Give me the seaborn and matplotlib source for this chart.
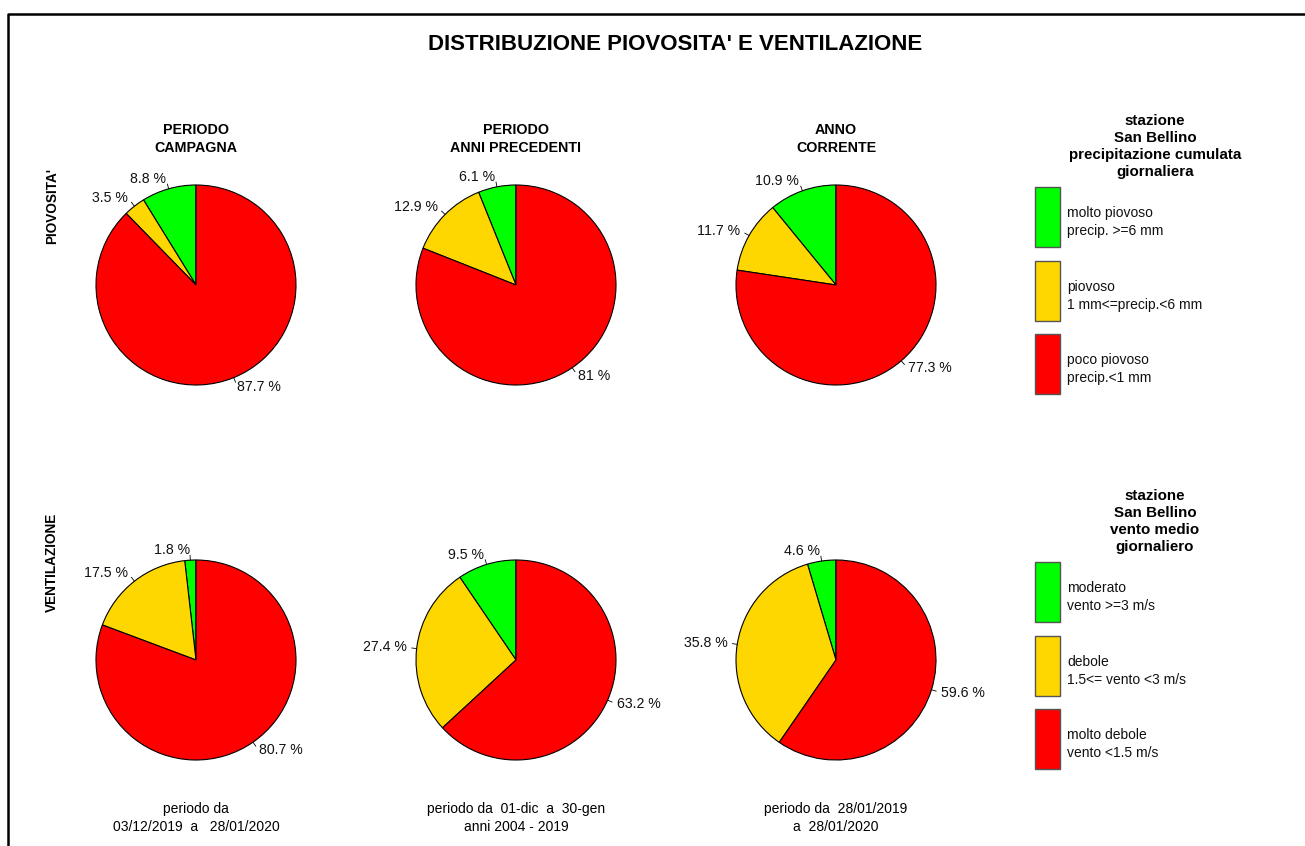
import matplotlib.pyplot as plt
import numpy as np
import seaborn as sns
from matplotlib.patches import Rectangle
from matplotlib.transforms import Bbox, TransformedBbox

# --- data ---
colors = ["#00FF00", "#FFD700", "#FF0000"]

rain_values = [
    [8.8, 3.5, 87.7],
    [6.1, 12.9, 81.0],
    [10.9, 11.7, 77.3],
]
rain_labels = [
    ["8.8 %", "3.5 %", "87.7 %"],
    ["6.1 %", "12.9 %", "81 %"],
    ["10.9 %", "11.7 %", "77.3 %"],
]
wind_values = [
    [1.8, 17.5, 80.7],
    [9.5, 27.4, 63.2],
    [4.6, 35.8, 59.6],
]
wind_labels = [
    ["1.8 %", "17.5 %", "80.7 %"],
    ["9.5 %", "27.4 %", "63.2 %"],
    ["4.6 %", "35.8 %", "59.6 %"],
]

col_titles = ["PERIODO\nCAMPAGNA", "PERIODO\nANNI PRECEDENTI", "ANNO\nCORRENTE"]
row_titles = ["PIOVOSITA'", "VENTILAZIONE"]
period_notes = [
    "periodo da\n03/12/2019  a   28/01/2020",
    "periodo da  01-dic  a  30-gen\nanni 2004 - 2019",
    "periodo da  28/01/2019\na  28/01/2020",
]

rain_legend_title = "stazione\nSan Bellino\nprecipitazione cumulata\ngiornaliera"
rain_legend = ["molto piovoso\nprecip. >=6 mm", "piovoso\n1 mm<=precip.<6 mm",
               "poco piovoso\nprecip.<1 mm"]
wind_legend_title = "stazione\nSan Bellino\nvento medio\ngiornaliero"
wind_legend = ["moderato\nvento >=3 m/s", "debole\n1.5<= vento <3 m/s",
               "molto debole\nvento <1.5 m/s"]

# --- layout (pixels) ---
W, H = 1305, 846
col_x = [196, 516, 836]
row_y = [285, 660]
cell_right = [352, 670, 985]
R = 100

sns.set_theme(style="white")
plt.rcParams["font.family"] = ["Liberation Sans", "DejaVu Sans"]

fig = plt.figure(figsize=(W / 100, H / 100), dpi=100)
fig.patch.set_facecolor("white")

over = fig.add_axes([0, 0, 1, 1])
over.set_xlim(0, W)
over.set_ylim(H, 0)
over.axis("off")


def lines_text(x, y, text, step, **kw):
    for i, line in enumerate(text.split("\n")):
        over.text(x, y + i * step, line, ha="center", va="center", **kw)


# frame
over.plot([8, 8, W], [H, 14, 14], color="black", lw=1.8, solid_capstyle="butt")

over.text(675, 44, "DISTRIBUZIONE PIOVOSITA' E VENTILAZIONE", ha="center",
          va="center", fontsize=16, fontweight="bold", color="black")

for x, t in zip(col_x, col_titles):
    lines_text(x, 130, t, 18, fontsize=10.3, fontweight="bold", color="black")

for y, t in zip([206, 562], row_titles):
    over.text(52, y, t, rotation=90, ha="center", va="center", fontsize=9.8,
              fontweight="bold", color="black")

for x, t in zip(col_x, period_notes):
    lines_text(x, 809, t, 18, fontsize=10, color="black")


def draw_pie(cx, cy, values, labels, right):
    s = R * 1.3
    ax = fig.add_axes([(cx - s) / W, 1 - (cy + s) / H, 2 * s / W, 2 * s / H])
    wedges, texts = ax.pie(
        values, labels=labels, colors=colors, startangle=90, counterclock=True,
        labeldistance=1.1,
        wedgeprops=dict(edgecolor="black", linewidth=0.8),
        textprops=dict(fontsize=10.2, color="#111111"),
    )
    for w in wedges:
        a = np.deg2rad((w.theta1 + w.theta2) / 2)
        ax.plot([np.cos(a), 1.05 * np.cos(a)], [np.sin(a), 1.05 * np.sin(a)],
                color="black", lw=0.6)
    clip = TransformedBbox(Bbox.from_extents(0, 0, right / W, 1), fig.transFigure)
    for t in texts:
        t.set_clip_on(True)
        t.set_clip_box(clip)
    ax.set_xlim(-1.3, 1.3)
    ax.set_ylim(-1.3, 1.3)
    ax.axis("off")


for i in range(3):
    draw_pie(col_x[i], row_y[0], rain_values[i], rain_labels[i], cell_right[i])
    draw_pie(col_x[i], row_y[1], wind_values[i], wind_labels[i], cell_right[i])


def draw_legend(title, entries, title_y, box_tops):
    lines_text(1155, title_y, title, 17, fontsize=10.9, fontweight="bold",
               color="black")
    for top, label, c in zip(box_tops, entries, colors):
        over.add_patch(Rectangle((1035, top), 25, 60, facecolor=c,
                                 edgecolor="#555555", lw=1))
        for j, line in enumerate(label.split("\n")):
            over.text(1067, top + 26 + j * 18, line, ha="left", va="center",
                      fontsize=10, color="#111111")


draw_legend(rain_legend_title, rain_legend, 121, [187, 261, 334])
draw_legend(wind_legend_title, wind_legend, 496, [562, 636, 709])

fig.savefig("out.png", dpi=100, facecolor="white")
